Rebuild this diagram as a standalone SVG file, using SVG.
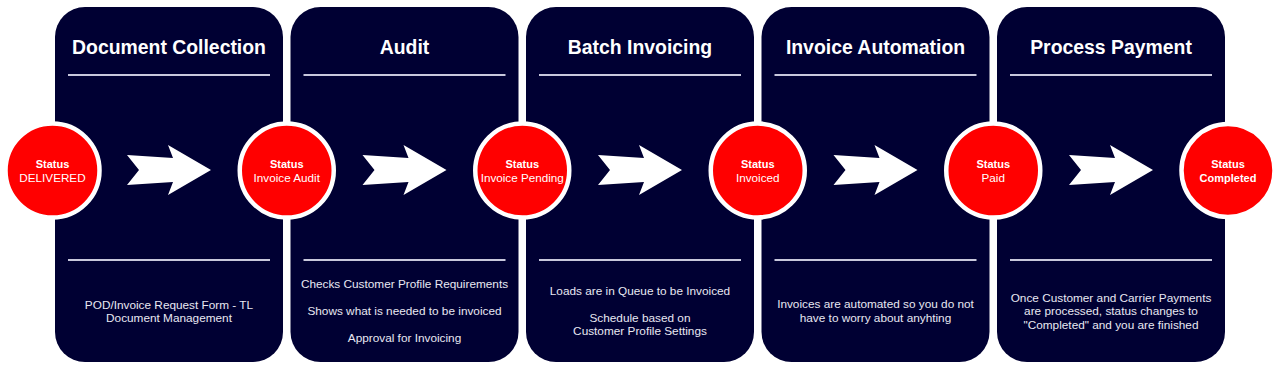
<svg xmlns="http://www.w3.org/2000/svg" width="1280" height="368" viewBox="0 0 1280 368">
<style>
.panel{fill:#000033;}
.div{stroke:#c8c8dc;stroke-width:2;}
.title{font-family:"Liberation Sans",Arial,sans-serif;font-weight:bold;font-size:19.4px;fill:#ffffff;text-anchor:middle;}
.body{font-family:"Liberation Sans",Arial,sans-serif;font-size:11.8px;fill:#e8e8f2;text-anchor:middle;}
.st{fill:#ff0000;stroke:#ffffff;stroke-width:4.5;}
.s1{font-family:"Liberation Sans",Arial,sans-serif;font-weight:bold;font-size:11px;fill:#ffffff;text-anchor:middle;}
.s2{font-family:"Liberation Sans",Arial,sans-serif;font-size:11.7px;fill:#ffffff;text-anchor:middle;}
.arrow{fill:#ffffff;}
</style>
<defs>
<path id="arr" d="M-42,-15 L4,-12 L-1,-25 L42,0 L-1,25 L4,12 L-42,15 L-30,0 Z"/>
</defs>
<rect width="1280" height="368" fill="#ffffff"/>

<g id="panel-document-collection">
<rect class="panel" x="55" y="7" width="228" height="355" rx="30"/>
<text class="title" x="169" y="54">Document Collection</text>
<line class="div" x1="68" y1="75" x2="270" y2="75"/>
<line class="div" x1="68" y1="260" x2="270" y2="260"/>
<text class="body" x="169" y="308.5">POD/Invoice Request Form - TL</text>
<text class="body" x="169" y="322">Document Management</text>
</g>

<g id="panel-audit">
<rect class="panel" x="290.5" y="7" width="228" height="355" rx="30"/>
<text class="title" x="404.5" y="54">Audit</text>
<line class="div" x1="303.5" y1="75" x2="505.5" y2="75"/>
<line class="div" x1="303.5" y1="260" x2="505.5" y2="260"/>
<text class="body" x="404.5" y="288">Checks Customer Profile Requirements</text>
<text class="body" x="404.5" y="315">Shows what is needed to be invoiced</text>
<text class="body" x="404.5" y="342">Approval for Invoicing</text>
</g>

<g id="panel-batch-invoicing">
<rect class="panel" x="526" y="7" width="228" height="355" rx="30"/>
<text class="title" x="640" y="54">Batch Invoicing</text>
<line class="div" x1="539" y1="75" x2="741" y2="75"/>
<line class="div" x1="539" y1="260" x2="741" y2="260"/>
<text class="body" x="640" y="295">Loads are in Queue to be Invoiced</text>
<text class="body" x="640" y="321.5">Schedule based on</text>
<text class="body" x="640" y="335">Customer Profile Settings</text>
</g>

<g id="panel-invoice-automation">
<rect class="panel" x="761.5" y="7" width="228" height="355" rx="30"/>
<text class="title" x="875.5" y="54">Invoice Automation</text>
<line class="div" x1="774.5" y1="75" x2="976.5" y2="75"/>
<line class="div" x1="774.5" y1="260" x2="976.5" y2="260"/>
<text class="body" x="875.5" y="308">Invoices are automated so you do not</text>
<text class="body" x="875.5" y="321.5">have to worry about anyhting</text>
</g>

<g id="panel-process-payment">
<rect class="panel" x="997" y="7" width="228" height="355" rx="30"/>
<text class="title" x="1111" y="54">Process Payment</text>
<line class="div" x1="1010" y1="75" x2="1212" y2="75"/>
<line class="div" x1="1010" y1="260" x2="1212" y2="260"/>
<text class="body" x="1111" y="301.5">Once Customer and Carrier Payments</text>
<text class="body" x="1111" y="315">are processed, status changes to</text>
<text class="body" x="1111" y="328.5">"Completed" and you are finished</text>
</g>

<g id="connectors">
<use href="#arr" class="arrow" x="169" y="170"/>
<use href="#arr" class="arrow" x="404.5" y="170"/>
<use href="#arr" class="arrow" x="640" y="170"/>
<use href="#arr" class="arrow" x="875.5" y="170"/>
<use href="#arr" class="arrow" x="1111" y="170"/>
</g>

<g id="status-delivered">
<circle class="st" cx="52.5" cy="170.5" r="47"/>
<text class="s1" x="52.5" y="167.5">Status</text>
<text class="s2" x="52.5" y="181.5">DELIVERED</text>
</g>
<g id="status-invoice-audit">
<circle class="st" cx="286.75" cy="170.5" r="47"/>
<text class="s1" x="286.75" y="167.5">Status</text>
<text class="s2" x="286.75" y="181.5">Invoice Audit</text>
</g>
<g id="status-invoice-pending">
<circle class="st" cx="522.25" cy="170.5" r="47"/>
<text class="s1" x="522.25" y="167.5">Status</text>
<text class="s2" x="522.25" y="181.5">Invoice Pending</text>
</g>
<g id="status-invoiced">
<circle class="st" cx="757.75" cy="170.5" r="47"/>
<text class="s1" x="757.75" y="167.5">Status</text>
<text class="s2" x="757.75" y="181.5">Invoiced</text>
</g>
<g id="status-paid">
<circle class="st" cx="993.25" cy="170.5" r="47"/>
<text class="s1" x="993.25" y="167.5">Status</text>
<text class="s2" x="993.25" y="181.5">Paid</text>
</g>
<g id="status-completed">
<circle class="st" cx="1228" cy="170.5" r="46.5"/>
<text class="s1" x="1228" y="167.5">Status</text>
<text class="s1" x="1228" y="181.5">Completed</text>
</g>
</svg>
